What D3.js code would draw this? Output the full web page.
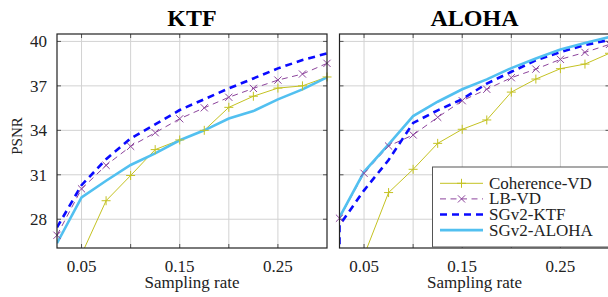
<!DOCTYPE html>
<html>
<head>
<meta charset="utf-8">
<script src="https://cdn.jsdelivr.net/npm/d3@7"></script>
<style>
  body { margin: 0; background: #fff; }
  svg { display: block; font-family: "Liberation Serif", "Times New Roman", serif; }
</style>
</head>
<body>
<svg id="chart" width="608" height="297"></svg>
<script>
const rates = [0.025, 0.05, 0.075, 0.1, 0.125, 0.15, 0.175, 0.2, 0.225, 0.25, 0.275, 0.3];
const xTicks = [0.05, 0.1, 0.15, 0.2, 0.25];
const xTickLabels = ["0.05", "", "0.15", "", "0.25"];
const yTicks = [28, 31, 34, 37, 40];

// KTF panel (null = no point at that rate)
const ktfCoherence = [22.0, null, 29.25, 30.95, 32.7, 33.35, 34.0, 35.55, 36.3, 36.85, 37.0, 37.6];
const ktfLB = [26.92, 30.05, 31.64, 32.92, 33.84, 34.78, 35.52, 36.23, 36.83, 37.39, 37.8, 38.52];
const ktfSgKtf = [27.45, 30.3, 32.05, 33.45, 34.4, 35.37, 36.1, 36.83, 37.5, 38.18, 38.74, 39.19];
const ktfSgAloha = [26.38, 29.48, 30.6, 31.66, 32.45, 33.33, 34.0, 34.8, 35.3, 36.09, 36.76, 37.57];

// ALOHA panel
const alohaCoherence = [21.3, null, 29.8, 31.37, 33.12, 34.07, 34.7, 36.58, 37.46, 38.16, 38.47, 39.2];
const alohaLB = [28.07, 31.1, 32.94, 33.69, 34.88, 36.0, 36.77, 37.55, 38.13, 38.79, 39.26, 39.8];
const alohaSgKtfStart = [0.025, 25.5];
const alohaSgKtf = [27.6, 29.95, 32.0, 34.5, 35.35, 36.1, 37.15, 37.95, 38.72, 39.28, 39.75, 40.1];
const alohaSgAloha = [28.13, 31.2, 33.05, 34.96, 35.93, 36.77, 37.44, 38.2, 38.85, 39.46, 39.9, 40.3];

const seriesNames = ["Coherence-VD", "LB-VD", "SGv2-KTF", "SGv2-ALOHA"];

const STYLE = {
  "Coherence-VD": { color: "#c4c222", width: 1, dash: null, marker: "plus" },
  "LB-VD": { color: "#8c449c", width: 1, dash: "6,4.5", marker: "cross" },
  "SGv2-KTF": { color: "#0a0aff", width: 2.6, dash: "7,5", marker: null },
  "SGv2-ALOHA": { color: "#52c0f0", width: 2.6, dash: null, marker: null },
};

function pairs(values) {
  return rates.map((r, i) => [r, values[i]]).filter((d) => d[1] !== null);
}

const panels = [
  {
    title: "KTF", left: 57, right: 327,
    series: {
      "Coherence-VD": pairs(ktfCoherence),
      "LB-VD": pairs(ktfLB),
      "SGv2-KTF": pairs(ktfSgKtf),
      "SGv2-ALOHA": pairs(ktfSgAloha),
    },
  },
  {
    title: "ALOHA", left: 339.5, right: 609.5,
    series: {
      "Coherence-VD": pairs(alohaCoherence),
      "LB-VD": pairs(alohaLB),
      "SGv2-KTF": [alohaSgKtfStart].concat(pairs(alohaSgKtf)),
      "SGv2-ALOHA": pairs(alohaSgAloha),
    },
    legend: true,
  },
];

const TOP = 34;
const BOTTOM = 248;
const svg = d3.select("#chart");

function drawMarker(g, type, x, y, color) {
  const s = 4.5;
  const path = type === "plus"
    ? `M${x - s},${y}H${x + s}M${x},${y - s}V${y + s}`
    : `M${x - s * 0.8},${y - s * 0.8}L${x + s * 0.8},${y + s * 0.8}M${x - s * 0.8},${y + s * 0.8}L${x + s * 0.8},${y - s * 0.8}`;
  g.append("path").attr("d", path).attr("stroke", color).attr("stroke-width", 1).attr("fill", "none");
}

panels.forEach((p, pi) => {
  const x = d3.scaleLinear().domain([0.025, 0.3]).range([p.left, p.right]);
  const y = d3.scaleLinear().domain([26.06, 40.5]).range([BOTTOM, TOP]);
  const g = svg.append("g");

  // grid
  g.selectAll(".vgrid").data(xTicks).join("line")
    .attr("x1", (d) => x(d)).attr("x2", (d) => x(d))
    .attr("y1", TOP).attr("y2", BOTTOM)
    .attr("stroke", "#d2d2d2").attr("stroke-width", 1);
  g.selectAll(".hgrid").data(yTicks).join("line")
    .attr("x1", p.left).attr("x2", p.right)
    .attr("y1", (d) => y(d)).attr("y2", (d) => y(d))
    .attr("stroke", "#d2d2d2").attr("stroke-width", 1);

  // inner tick marks on all sides
  const tk = 4;
  xTicks.forEach((t) => {
    g.append("line").attr("x1", x(t)).attr("x2", x(t)).attr("y1", TOP).attr("y2", TOP + tk).attr("stroke", "#555");
    g.append("line").attr("x1", x(t)).attr("x2", x(t)).attr("y1", BOTTOM).attr("y2", BOTTOM - tk).attr("stroke", "#555");
  });
  yTicks.forEach((t) => {
    g.append("line").attr("x1", p.left).attr("x2", p.left + tk).attr("y1", y(t)).attr("y2", y(t)).attr("stroke", "#555");
    g.append("line").attr("x1", p.right).attr("x2", p.right - tk).attr("y1", y(t)).attr("y2", y(t)).attr("stroke", "#555");
  });

  // tick labels
  g.selectAll(".xl").data(xTicks).join("text")
    .attr("x", (d) => x(d)).attr("y", 271.5)
    .attr("text-anchor", "middle").attr("font-size", 17).attr("fill", "#222")
    .text((d, i) => xTickLabels[i]);
  if (pi === 0) {
    g.selectAll(".yl").data(yTicks).join("text")
      .attr("x", 47).attr("y", (d) => y(d) + 6)
      .attr("text-anchor", "end").attr("font-size", 17).attr("fill", "#222")
      .text((d) => d);
    g.append("text")
      .attr("transform", "translate(21.5,136) rotate(-90)")
      .attr("text-anchor", "middle").attr("font-size", 15).attr("fill", "#222")
      .text("PSNR");
  }

  // titles
  g.append("text")
    .attr("x", (p.left + p.right) / 2).attr("y", 25.5)
    .attr("text-anchor", "middle").attr("font-size", 24).attr("font-weight", "bold")
    .text(p.title);
  g.append("text")
    .attr("x", (p.left + p.right) / 2).attr("y", 288)
    .attr("text-anchor", "middle").attr("font-size", 17).attr("fill", "#222")
    .text("Sampling rate");

  // clip + lines
  const clipId = "clip" + pi;
  svg.append("clipPath").attr("id", clipId).append("rect")
    .attr("x", p.left).attr("y", TOP).attr("width", p.right - p.left).attr("height", BOTTOM - TOP);
  const line = d3.line().x((d) => x(d[0])).y((d) => y(d[1]));
  const lg = g.append("g").attr("clip-path", `url(#${clipId})`);
  const mg = g.append("g");
  seriesNames.forEach((name) => {
    const st = STYLE[name];
    lg.append("path")
      .datum(p.series[name])
      .attr("d", line)
      .attr("fill", "none")
      .attr("stroke", st.color)
      .attr("stroke-width", st.width)
      .attr("stroke-dasharray", st.dash);
    if (st.marker) {
      p.series[name].forEach((d) => drawMarker(mg, st.marker, x(d[0]), y(d[1]), st.color));
    }
  });

  // frame
  g.append("rect")
    .attr("x", p.left).attr("y", TOP)
    .attr("width", p.right - p.left).attr("height", BOTTOM - TOP)
    .attr("fill", "none").attr("stroke", "#222").attr("stroke-width", 1.2);

  if (p.legend) {
    const lx = 432.5, ly = 167;
    const leg = g.append("g");
    leg.append("rect")
      .attr("x", lx).attr("y", ly).attr("width", 185).attr("height", 80)
      .attr("fill", "#fff").attr("stroke", "#555").attr("stroke-width", 1);
    seriesNames.forEach((name, i) => {
      const st = STYLE[name];
      const ry = 183.3 + i * 15.6;
      leg.append("line")
        .attr("x1", 440).attr("x2", 483).attr("y1", ry).attr("y2", ry)
        .attr("stroke", st.color).attr("stroke-width", st.width)
        .attr("stroke-dasharray", st.dash);
      if (st.marker) drawMarker(leg, st.marker, 461.5, ry, st.color);
      leg.append("text")
        .attr("x", 489).attr("y", ry + 5.5)
        .attr("font-size", 17).attr("fill", "#222")
        .text(name);
    });
  }
});
</script>
</body>
</html>
